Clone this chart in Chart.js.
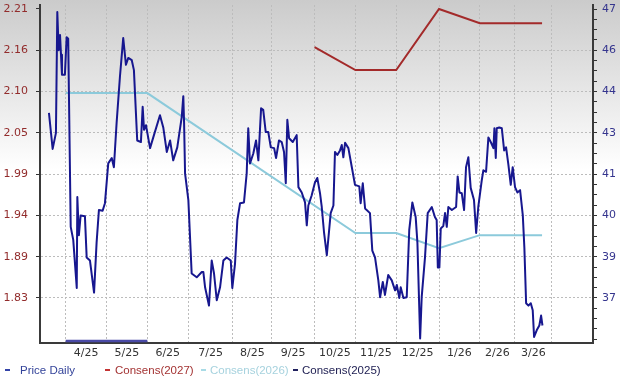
<!DOCTYPE html>
<html>
<head>
<meta charset="utf-8">
<script src="https://cdn.jsdelivr.net/npm/chart.js@4.4.1/dist/chart.umd.min.js"></script>
<style>
html, body { margin: 0; padding: 0; }
#wrap {
    position: relative; width: 620px; height: 379px; overflow: hidden;
    background: linear-gradient(to bottom, #cbcbcb 0px, #ffffff 170px, #ffffff 379px);
}
#legend { position: absolute; left: 0; top: 363px; width: 620px; height: 14px;
    font: 11.5px "Liberation Sans", Arial, sans-serif; }
#legend span { position: absolute; top: 0; white-space: nowrap; line-height: 14px; }
#legend i { position: absolute; top: 6px; width: 5px; height: 2px; }
</style>
</head>
<body>
<div id="wrap">
    <canvas id="priceChart" width="620" height="379"></canvas>
    <div id="legend"></div>
</div>
<script>
// x axis is in trading sessions, 0 = first session of April 2025
var monthStarts = [0, 21, 42, 63, 86, 106, 128, 149, 170, 192, 213, 231, 250];
var monthLabels = ['4/25', '5/25', '6/25', '7/25', '8/25', '9/25', '10/25', '11/25', '12/25', '1/26', '2/26', '3/26'];

// tick values (left = price, right = EPS consensus)
var leftTicks = [2.21, 2.156, 2.102, 2.048, 1.994, 1.94, 1.886, 1.832];
var rightTicks = [47, 45.6, 44.2, 42.8, 41.4, 40, 38.6, 37.2];

// daily price
var priceDays = [-8.6,-6.7,-5.0,-4.3,-3.6,-2.9,-2.4,-1.9,-0.4,0.5,
    1.3,2.6,3.9,5.7,6.0,6.8,7.7,9.9,10.8,12.5,
    14.6,15.9,17.1,19.0,20.2,21.9,23.7,24.8,26.2,27.9,
    29.6,31.0,32.2,34.0,35.1,36.8,38.7,39.6,40.3,41.3,
    43.4,45.4,48.5,50.2,52.0,53.7,55.3,57.4,59.7,60.5,
    60.9,61.4,63.1,64.8,67.4,70.0,70.8,71.7,73.7,75.1,
    76.3,77.7,79.4,81.1,82.8,84.9,85.7,87.1,88.3,89.7,
    91.7,93.1,93.9,94.8,96.5,97.9,99.1,100.5,101.6,102.9,
    104.2,105.5,107.2,108.2,109.7,111.1,112.3,113.2,114.0,114.9,
    116.8,118.8,119.7,121.4,123.1,124.0,124.8,126.5,128.2,129.4,
    130.8,131.7,132.9,134.3,135.4,136.3,137.7,138.5,139.7,141.1,
    142.0,142.8,143.7,145.4,147.1,148.8,151.0,151.7,152.8,154.0,
    156.5,157.7,159.1,160.8,161.7,163.1,164.2,165.9,167.7,169.4,
    170.3,171.6,172.3,173.7,175.4,176.7,178.3,180.0,180.9,182.3,
    183.1,184.8,186.2,188.3,189.9,190.8,191.4,192.2,192.9,194.2,
    195.1,196.0,196.8,198.6,200.8,201.6,202.5,203.7,204.9,205.9,
    207.1,208.3,210.0,211.1,212.2,214.0,214.8,216.2,217.4,218.8,
    220.0,220.5,221.2,221.7,223.0,224.3,225.5,226.5,227.7,228.9,
    229.9,231.1,232.3,233.7,235.1,235.9,236.8,238.0,239.2,240.2,
    240.9,242.3,243.6,244.5,245.2];
var priceValues = [2.074,2.027,2.048,2.206,2.156,2.176,2.150,2.124,2.124,2.173,
    2.171,1.925,1.908,1.845,1.964,1.914,1.940,1.939,1.885,1.881,
    1.839,1.904,1.947,1.946,1.956,2.008,2.015,2.003,2.061,2.121,
    2.172,2.137,2.146,2.143,2.130,2.038,2.036,2.082,2.052,2.058,
    2.028,2.045,2.071,2.055,2.023,2.038,2.012,2.029,2.069,2.096,
    2.061,1.995,1.960,1.864,1.859,1.866,1.866,1.846,1.822,1.881,
    1.864,1.829,1.846,1.881,1.885,1.881,1.845,1.877,1.934,1.956,
    1.957,1.995,2.054,2.008,2.021,2.038,2.012,2.080,2.078,2.049,
    2.049,2.029,2.028,2.015,2.038,2.036,2.023,1.982,2.065,2.041,
    2.036,2.045,1.977,1.970,1.957,1.927,1.953,1.966,1.983,1.989,
    1.969,1.951,1.917,1.888,1.918,1.943,1.953,2.023,2.019,2.025,
    2.032,2.016,2.035,2.028,2.004,1.980,1.978,1.956,1.982,1.949,
    1.943,1.894,1.885,1.855,1.833,1.853,1.836,1.862,1.855,1.842,
    1.849,1.832,1.846,1.832,1.833,1.921,1.957,1.938,1.904,1.779,
    1.833,1.885,1.943,1.951,1.938,1.934,1.872,1.872,1.923,1.926,
    1.943,1.925,1.951,1.947,1.951,1.991,1.970,1.969,1.947,2.003,
    2.016,1.976,1.960,1.917,1.951,1.986,1.999,1.997,2.042,2.035,
    2.028,2.054,2.015,2.054,2.055,2.054,2.025,2.029,2.006,1.980,
    2.003,1.977,1.970,1.973,1.940,1.898,1.825,1.822,1.825,1.816,
    1.781,1.790,1.796,1.809,1.796];

// consensus estimates
var cons2027Days = [128, 149, 170, 192, 213, 245];
var cons2027 = [45.71, 44.93, 44.93, 47.0, 46.52, 46.52];
var cons2026Days = [0, 42, 149, 170, 192, 213, 245];
var cons2026 = [44.15, 44.15, 39.40, 39.40, 38.89, 39.33, 39.33];
var cons2025Days = [0, 42];
var cons2025 = [35.74, 35.74];

function pts(xs, ys) {
    return xs.map(function (x, i) { return { x: x, y: ys[i] }; });
}

// label ticks sit mid-month, grid ticks on month starts
var labelAt = {};
var xTicks = monthStarts.slice();
for (var i = 0; i < monthLabels.length; i++) {
    var mid = (monthStarts[i] + monthStarts[i + 1]) / 2;
    labelAt[mid] = monthLabels[i];
    xTicks.push(mid);
}
xTicks.sort(function (a, b) { return a - b; });

// right axis: minor ticks every 0.35, labels on every 4th
var rightAll = [];
for (var k = 0; 47 - k * 0.35 > 35.7; k++) rightAll.push(+(47 - k * 0.35).toFixed(2));

Chart.defaults.font.family = '"DejaVu Sans", Verdana, sans-serif';
Chart.defaults.font.size = 11;

var ctx = document.getElementById('priceChart').getContext('2d');
var priceChart = new Chart(ctx, {
    type: 'line',
    data: {
        datasets: [{
            label: 'Price Daily',
            data: pts(priceDays, priceValues),
            yAxisID: 'y',
            borderColor: '#17178f',
            borderWidth: 2,
            pointRadius: 0,
            tension: 0,
            borderJoinStyle: 'round'
        }, {
            label: 'Consens(2027)',
            data: pts(cons2027Days, cons2027),
            yAxisID: 'y1',
            borderColor: '#a32a2a',
            borderWidth: 2,
            pointRadius: 0
        }, {
            label: 'Consens(2026)',
            data: pts(cons2026Days, cons2026),
            yAxisID: 'y1',
            borderColor: '#8ccadb',
            borderWidth: 2,
            pointRadius: 0
        }, {
            label: 'Consens(2025)',
            data: pts(cons2025Days, cons2025),
            yAxisID: 'y1',
            borderColor: '#4a4aa6',
            borderWidth: 2.5,
            pointRadius: 0
        }]
    },
    options: {
        responsive: false,
        animation: false,
        devicePixelRatio: 1,
        layout: { padding: { top: 5, left: 0, right: 0, bottom: 0 } },
        plugins: { legend: { display: false }, tooltip: { enabled: false } },
        scales: {
            x: {
                type: 'linear',
                min: -13.2,
                max: 271.2,
                afterBuildTicks: function (axis) {
                    axis.ticks = xTicks.map(function (v) { return { value: v }; });
                },
                afterFit: function (axis) {
                    axis.height = 36; axis.paddingLeft = 0; axis.paddingRight = 0;
                },
                ticks: {
                    autoSkip: false, maxRotation: 0, padding: 4, color: '#333',
                    callback: function (v) { return labelAt[v] || ''; }
                },
                grid: {
                    drawTicks: false,
                    color: function (c) {
                        return c.tick && monthStarts.indexOf(c.tick.value) >= 0 ? '#bcbcbc' : 'rgba(0,0,0,0)';
                    }
                },
                border: { color: '#3a3a3a', width: 2, dash: [2, 2] }
            },
            y: {
                position: 'left',
                min: 1.7731,
                max: 2.2152,
                afterBuildTicks: function (axis) {
                    axis.ticks = leftTicks.map(function (v) { return { value: v }; });
                },
                afterFit: function (axis) {
                    axis.width = 40; axis.paddingTop = 0; axis.paddingBottom = 0;
                },
                ticks: {
                    autoSkip: false, padding: 8, color: '#922c2c',
                    callback: function (v) { return v.toFixed(2); }
                },
                grid: {
                    tickLength: 4,
                    tickColor: '#333',
                    color: function (c) { return c.index === 0 ? 'rgba(0,0,0,0)' : '#bcbcbc'; }
                },
                border: { color: '#3a3a3a', width: 2, dash: [2, 2] }
            },
            y1: {
                position: 'right',
                min: 35.673,
                max: 47.136,
                afterBuildTicks: function (axis) {
                    axis.ticks = rightAll.map(function (v) { return { value: v }; });
                },
                afterFit: function (axis) {
                    axis.width = 27; axis.paddingTop = 0; axis.paddingBottom = 0;
                },
                ticks: {
                    autoSkip: false, padding: 5, color: '#35358e',
                    callback: function (v) {
                        var hit = rightTicks.filter(function (t) { return Math.abs(t - v) < 0.01; });
                        return hit.length ? hit[0].toFixed(0) : '';
                    }
                },
                grid: { drawOnChartArea: false, tickLength: 4, tickColor: '#333' },
                border: { color: '#3a3a3a', width: 2 }
            }
        }
    }
});

// legend
var legendItems = [
    { text: 'Price Daily', dash: '#3444a8', color: '#34449a', dx: 5, tx: 20 },
    { text: 'Consens(2027)', dash: '#c43434', color: '#a33232', dx: 105, tx: 115 },
    { text: 'Consens(2026)', dash: '#a8dbe6', color: '#a6d2de', dx: 201, tx: 210 },
    { text: 'Consens(2025)', dash: '#20205e', color: '#1c1c50', dx: 293, tx: 302 }
];
var legend = document.getElementById('legend');
legendItems.forEach(function (it) {
    var d = document.createElement('i');
    d.style.left = it.dx + 'px';
    d.style.background = it.dash;
    legend.appendChild(d);
    var s = document.createElement('span');
    s.style.left = it.tx + 'px';
    s.style.color = it.color;
    s.textContent = it.text;
    legend.appendChild(s);
});
</script>
</body>
</html>
